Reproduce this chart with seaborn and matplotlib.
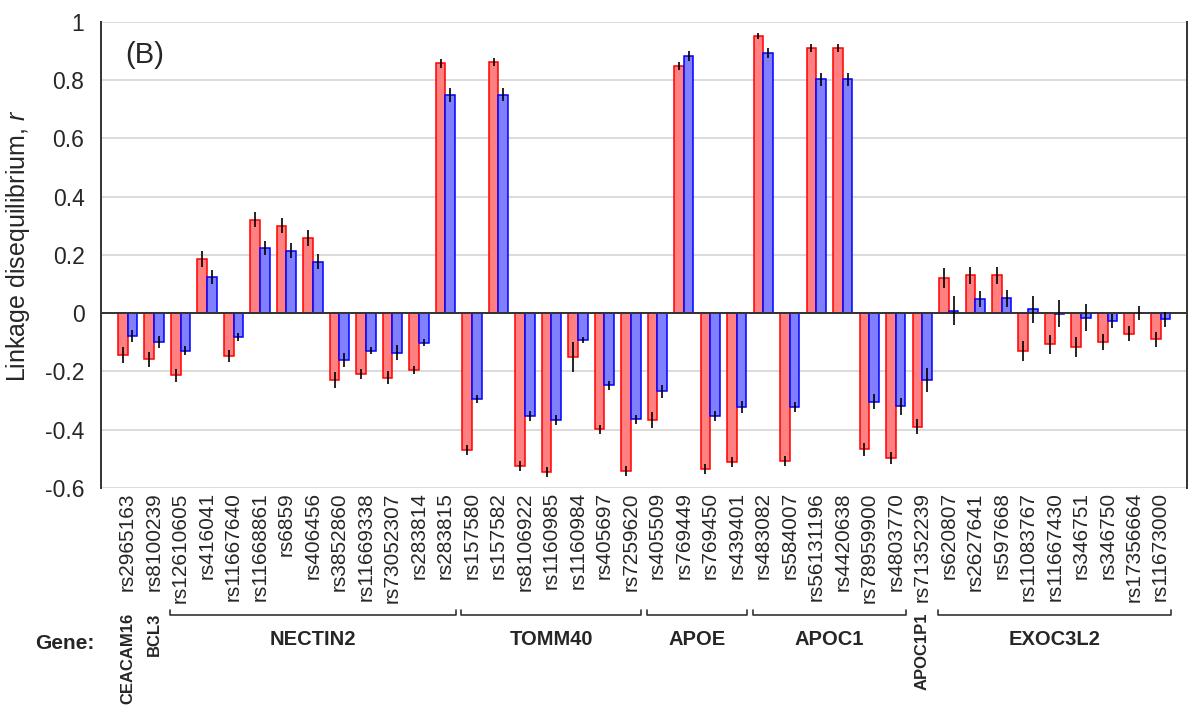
import numpy as np
import pandas as pd
import seaborn as sns
import matplotlib.pyplot as plt
from matplotlib.ticker import FuncFormatter
import matplotlib.transforms as mtransforms

# SNPs along the x axis and the gene each one belongs to
snps = ["rs2965163", "rs8100239",
        "rs12610605", "rs416041", "rs11667640", "rs11668861", "rs6859", "rs406456",
        "rs3852860", "rs11669338", "rs73052307", "rs283814", "rs283815",
        "rs157580", "rs157582", "rs8106922", "rs1160985", "rs1160984", "rs405697", "rs7259620",
        "rs405509", "rs769449", "rs769450", "rs439401",
        "rs483082", "rs584007", "rs56131196", "rs4420638", "rs78959900", "rs4803770",
        "rs71352239",
        "rs620807", "rs2627641", "rs597668", "rs11083767", "rs11667430", "rs346751",
        "rs346750", "rs17356664", "rs11673000"]
genes = (["CEACAM16", "BCL3"] + ["NECTIN2"] * 11 + ["TOMM40"] * 7 + ["APOE"] * 4
         + ["APOC1"] * 6 + ["APOC1P1"] + ["EXOC3L2"] * 9)

# linkage disequilibrium r, red series and blue series, with error bars
r_red = [-0.143, -0.158, -0.213, 0.186, -0.146, 0.321, 0.301, 0.258, -0.229, -0.209,
         -0.221, -0.194, 0.858,
         -0.469, 0.862, -0.526, -0.545, -0.150, -0.399, -0.542,
         -0.367, 0.850, -0.535, -0.510,
         0.951, -0.508, 0.911, 0.911, -0.467, -0.497,
         -0.389,
         0.121, 0.130, 0.130, -0.129, -0.107, -0.117, -0.099, -0.070, -0.089]
r_blue = [-0.078, -0.098, -0.128, 0.125, -0.082, 0.224, 0.215, 0.177, -0.160, -0.128,
          -0.136, -0.101, 0.749,
          -0.294, 0.751, -0.352, -0.366, -0.091, -0.248, -0.364,
          -0.268, 0.883, -0.353, -0.322,
          0.895, -0.322, 0.803, 0.803, -0.304, -0.320,
          -0.229,
          0.009, 0.049, 0.051, 0.013, -0.002, -0.015, -0.027, 0.001, -0.021]
err_red = [0.027, 0.026, 0.023, 0.027, 0.020, 0.026, 0.027, 0.028, 0.027, 0.018,
           0.022, 0.013, 0.015,
           0.017, 0.014, 0.017, 0.017, 0.051, 0.016, 0.018,
           0.027, 0.014, 0.018, 0.017,
           0.010, 0.018, 0.013, 0.013, 0.022, 0.020,
           0.027,
           0.034, 0.029, 0.029, 0.034, 0.033, 0.034, 0.027, 0.027, 0.026]
err_blue = [0.020, 0.020, 0.015, 0.023, 0.014, 0.025, 0.026, 0.026, 0.024, 0.013,
            0.026, 0.013, 0.023,
            0.015, 0.022, 0.017, 0.017, 0.011, 0.014, 0.015,
            0.023, 0.018, 0.016, 0.019,
            0.017, 0.017, 0.022, 0.022, 0.026, 0.029,
            0.040,
            0.049, 0.029, 0.029, 0.047, 0.046, 0.046, 0.024, 0.025, 0.026]

sns.set_style("white")
plt.rcParams['font.family'] = ['Liberation Sans', 'DejaVu Sans']
plt.rcParams['mathtext.fontset'] = 'custom'
plt.rcParams['mathtext.it'] = 'Liberation Sans:italic'
plt.rcParams['mathtext.rm'] = 'Liberation Sans'
plt.rcParams['axes.unicode_minus'] = False

df = pd.DataFrame({
    "snp": snps * 2,
    "r": r_red + r_blue,
    "series": ["red"] * len(snps) + ["blue"] * len(snps),
})

fig = plt.figure(figsize=(11.89, 7.09), dpi=100)
ax = fig.add_axes([0.085, 0.3117, 0.9134, 0.6573])

sns.barplot(data=df, x="snp", y="r", hue="series", order=snps, hue_order=["red", "blue"],
            palette=["#ff8080", "#8080ff"], saturation=1, width=0.73, gap=0,
            errorbar=None, legend=False, ax=ax)

edge_cols = ["#ff0000", "#0000ff"]
errs = [err_red, err_blue]
for cont, ec, err in zip(ax.containers, edge_cols, errs):
    xs, ys, es = [], [], []
    for bar in cont:
        bar.set_edgecolor(ec)
        bar.set_linewidth(1.1)
        xc = bar.get_x() + bar.get_width() / 2
        xs.append(xc)
        ys.append(bar.get_height())
        es.append(err[int(round(xc))])
    ax.errorbar(xs, ys, yerr=es, fmt="none", ecolor="black", elinewidth=1.2, capsize=0, zorder=5)

ax.axhline(0, color="#333333", lw=1.4, zorder=4)

ax.set_xlim(-1, len(snps))
ax.set_ylim(-0.6, 1.0)
ax.set_yticks(np.arange(-0.6, 1.01, 0.2))
ax.yaxis.set_major_formatter(FuncFormatter(lambda v, p: f"{round(v, 1):g}"))
ax.grid(axis="y", color="#d9d9d9", lw=1.3)
ax.set_axisbelow(True)

ax.tick_params(axis="y", length=0, pad=12, labelsize=16.5)
ax.tick_params(axis="x", length=0, pad=3, labelsize=15, labelrotation=90)
ax.set_xlabel("")
ax.set_ylabel("Linkage disequilibrium, $r$", fontsize=18)
ax.yaxis.set_label_coords(-0.064, 0.52)

for s in ["top", "bottom"]:
    ax.spines[s].set_visible(False)
for s in ["left", "right"]:
    ax.spines[s].set_color("#333333")
    ax.spines[s].set_linewidth(1.4)

ax.text(0.022, 0.929, "(B)", transform=ax.transAxes, fontsize=21, ha="left", va="center")

# gene annotation below the SNP labels
trans = mtransforms.blended_transform_factory(ax.transData, ax.transAxes)
ax.text(-0.033, -0.333, "Gene:", transform=ax.transAxes, fontsize=15, fontweight="bold",
        ha="center", va="center")

runs = []
start = 0
for i in range(1, len(genes) + 1):
    if i == len(genes) or genes[i] != genes[start]:
        runs.append((genes[start], start, i - 1))
        start = i

y_br = -0.2725
for name, i0, i1 in runs:
    if i0 == i1:
        ax.text(i0, -0.268, name, transform=trans, rotation=90, fontsize=12,
                fontweight="bold", ha="center", va="top")
    else:
        x0, x1 = i0 - 0.4, i1 + 0.4
        ax.plot([x0, x0, x1, x1], [y_br + 0.011, y_br, y_br, y_br + 0.011], transform=trans,
                color="#333333", lw=1.2, clip_on=False)
        ax.text((i0 + i1) / 2, -0.325, name, transform=trans, fontsize=14.5,
                fontweight="bold", ha="center", va="center")

fig.savefig("out.png", dpi=100)
